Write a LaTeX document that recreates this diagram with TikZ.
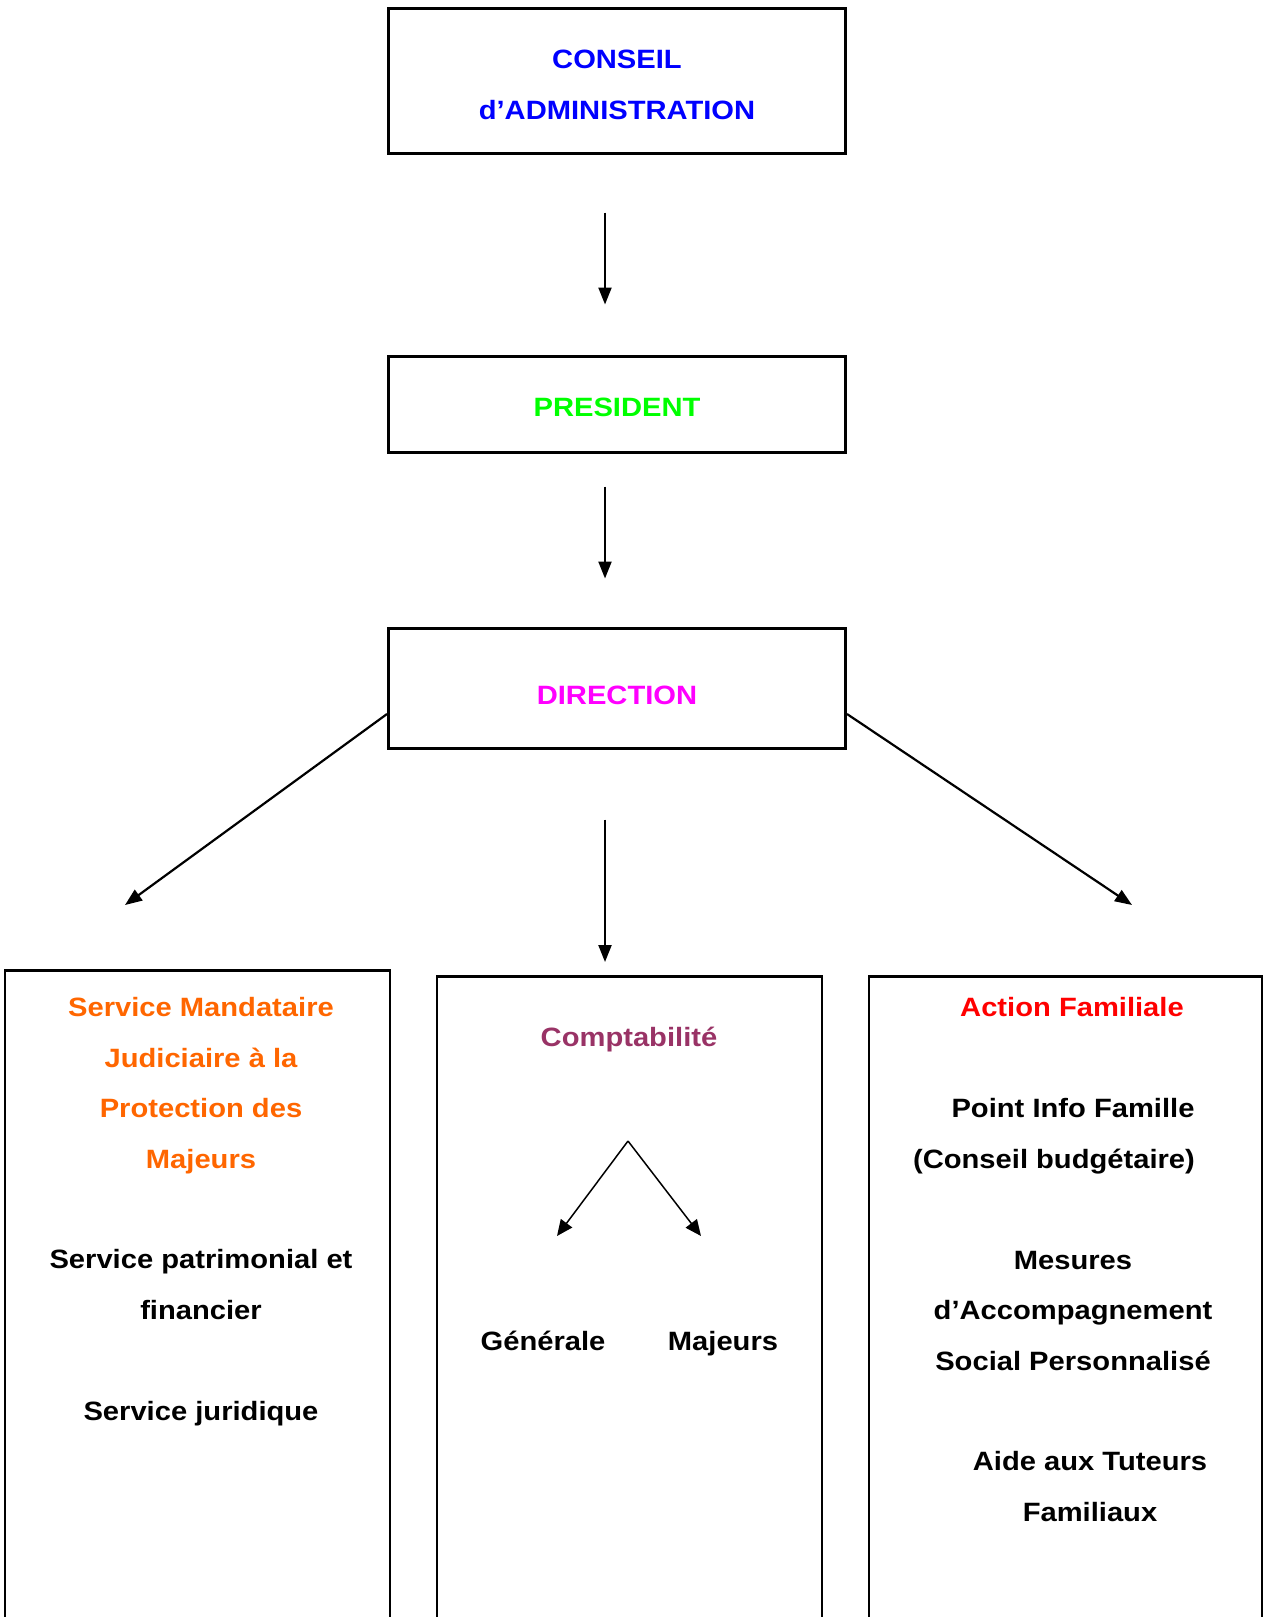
\documentclass[tikz,border=0pt]{standalone}
\usepackage{fontspec}
\setmainfont{Liberation Sans}[FakeStretch=1.1]
\usetikzlibrary{arrows.meta}
\definecolor{conseilblue}{RGB}{0,0,255}
\definecolor{presgreen}{RGB}{0,255,0}
\definecolor{dirmagenta}{RGB}{255,0,255}
\definecolor{smjorange}{RGB}{255,102,0}
\definecolor{comptaplum}{RGB}{153,51,102}
\definecolor{actionred}{RGB}{255,0,0}

\begin{document}
\begin{tikzpicture}[x=1pt, y=-1pt,
  every node/.style={inner sep=0pt, align=center,
                     font=\fontsize{26.5}{50.5}\selectfont\bfseries},
  box/.style={draw, line width=3pt, minimum width=457pt},
  unitbox/.style={draw, line width=2.7pt, minimum width=385pt,
                  minimum height=700pt, anchor=north},
  arrow/.style={-{Triangle[length=17pt,width=13pt]}, line width=2.2pt},
  subarrow/.style={-{Triangle[length=16pt,width=14pt]}, line width=1.5pt}]
\useasboundingbox (0,0) rectangle (1264,1617);

% top of the chart
\node[box, minimum height=145pt] (conseil) at (617,80.5) {};
\node[anchor=base, text=conseilblue] (conseil-label) at (617,119)
  {CONSEIL\\d’ADMINISTRATION};
\node[box, minimum height=96pt] (president) at (617,404) {};
\node[anchor=base, text=presgreen] (president-label) at (617,416) {PRESIDENT};
\node[box, minimum height=120pt] (direction) at (617,688) {};
\node[anchor=base, text=dirmagenta] (direction-label) at (617,704) {DIRECTION};

% the three services
\node[unitbox] (smjpm) at (197.5,969) {};
\node[unitbox] (compta) at (629.5,975) {};
\node[unitbox, minimum width=393pt] (action) at (1065.5,975) {};

% base = last line
\node[anchor=base, text=smjorange] (smjpm-title) at (201,1168)
  {Service Mandataire\\Judiciaire à la\\Protection des\\Majeurs};
\node[anchor=base] (smjpm-patri) at (201,1319) {Service patrimonial et\\financier};
\node[anchor=base] (smjpm-jur) at (201,1420) {Service juridique};

\node[anchor=base, text=comptaplum] (compta-title) at (629,1046) {Comptabilité};
\node[anchor=base] (generale) at (543,1350) {Générale};
\node[anchor=base] (majeurs) at (723,1350) {Majeurs};

\node[anchor=base, text=actionred] (action-title) at (1072,1016) {Action Familiale};
\node[anchor=base] (pif) at (1073,1117) {Point Info Famille};
\node[anchor=base] (budget) at (1054,1168) {(Conseil budgétaire)};
\node[anchor=base] (masp) at (1073,1370)
  {Mesures\\d’Accompagnement\\Social Personnalisé};
\node[anchor=base] (tuteurs) at (1090,1521) {Aide aux Tuteurs\\Familiaux};

% free ends
\coordinate (smjpm-in) at (125,905);
\coordinate (action-in) at (1132,905);
\coordinate (compta-split) at (628,1141);
\coordinate (generale-in) at (557,1236);
\coordinate (majeurs-in) at (701,1236);

\draw[arrow, shorten <=58pt, shorten >=50pt]
  ([xshift=-12pt]conseil.south) -- ([xshift=-12pt]president.north);
\draw[arrow, shorten <=33pt, shorten >=48pt]
  ([xshift=-12pt]president.south) -- ([xshift=-12pt]direction.north);
\draw[arrow, shorten <=70pt, shorten >=13pt]
  ([xshift=-12pt]direction.south) -- ([xshift=-24.5pt]compta.north);
\draw[arrow] ([yshift=-26pt]direction.west) -- (smjpm-in);
\draw[arrow] ([yshift=-26pt]direction.east) -- (action-in);

\draw[subarrow] (compta-split) -- (generale-in);
\draw[subarrow] (compta-split) -- (majeurs-in);
\end{tikzpicture}
\end{document}
